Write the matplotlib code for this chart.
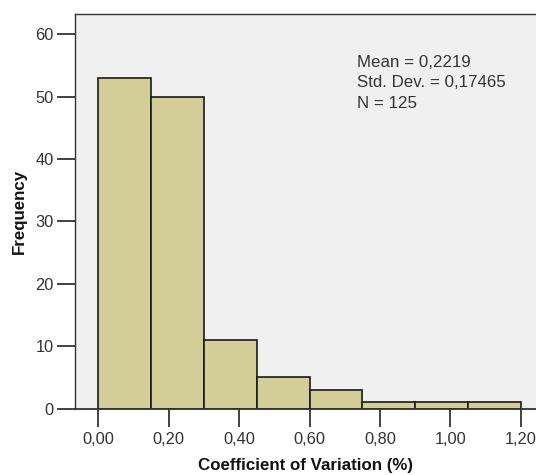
import matplotlib

matplotlib.use("Agg")

import matplotlib.pyplot as plt

BIN_EDGES = [0.00, 0.15, 0.30, 0.45, 0.60, 0.75, 0.90, 1.05, 1.20]
COUNTS = [53, 50, 11, 5, 3, 1, 1, 1]
X_TICKS = [0.0, 0.2, 0.4, 0.6, 0.8, 1.0, 1.2]
X_TICK_LABELS = ["0,00", "0,20", "0,40", "0,60", "0,80", "1,00", "1,20"]
Y_TICKS = [0, 10, 20, 30, 40, 50, 60]
STATS = ["Mean = 0,2219", "Std. Dev. = 0,17465", "N = 125"]

BAR_COLOR = "#d3ce97"
PANEL_COLOR = "#f0f0f0"
TEXT_COLOR = "#333333"

plt.rcParams["font.family"] = ["Liberation Sans", "DejaVu Sans"]

W, H = 536, 475
fig = plt.figure(figsize=(W / 100, H / 100), dpi=100)
left, top, bottom = 74.5, 14, 408.7
ax = fig.add_axes([left / W, (H - bottom) / H, 1 - left / W + 0.002, (bottom - top) / H])
ax.set_facecolor(PANEL_COLOR)

widths = [b - a for a, b in zip(BIN_EDGES[:-1], BIN_EDGES[1:])]
ax.bar(BIN_EDGES[:-1], COUNTS, width=widths, align="edge",
       color=BAR_COLOR, edgecolor="#1a1a1a", linewidth=1.2, zorder=3)

ax.set_xlim(-0.068, 1.246)
ax.set_ylim(0, 63.25)

ax.set_xticks(X_TICKS)
ax.set_xticklabels(X_TICK_LABELS)
ax.set_yticks(Y_TICKS)
ax.tick_params(axis="both", direction="out", length=13, width=1.2,
               color="#222222", labelsize=11.8, labelcolor=TEXT_COLOR)
ax.tick_params(axis="x", pad=4)
ax.tick_params(axis="y", pad=2)

for side in ("left", "top", "bottom"):
    ax.spines[side].set_color("#333333")
    ax.spines[side].set_linewidth(1.0)
ax.spines["bottom"].set_linewidth(1.3)
ax.spines["bottom"].set_zorder(4)
ax.spines["right"].set_visible(False)

ax.set_xlabel("Coefficient of Variation (%)", fontsize=12.2, fontweight="bold",
              color="#111111", labelpad=8)
ax.set_ylabel("Frequency", fontsize=12.2, fontweight="bold",
              color="#111111", labelpad=6)

for i, line in enumerate(STATS):
    ax.text(0.611, 0.897 - i * 0.0525, line, transform=ax.transAxes,
            ha="left", va="top", fontsize=12.2, color=TEXT_COLOR)

fig.savefig("out.png", dpi=100)
